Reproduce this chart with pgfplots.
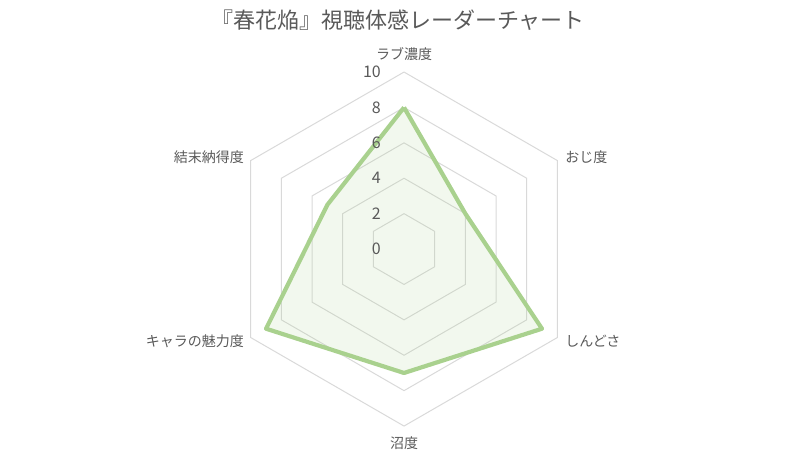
\documentclass[border=0pt]{standalone}
\usepackage{pgfplots}
\pgfplotsset{compat=1.18}
\usepackage{fontspec}
\setmainfont{Noto Sans CJK JP}
\definecolor{lineg}{HTML}{A9D18E}
\definecolor{gridg}{HTML}{D9D9D9}
\definecolor{txt}{HTML}{595959}
\begin{document}
\begin{tikzpicture}
\begin{axis}[
  x=17.7pt, y=17.7pt,
  xmin=-22.825, xmax=22.54, ymin=-11.47, ymax=14.07,
  hide axis, clip=false,
]
% bounding box
\path (axis cs:-22.825,-11.47) rectangle (axis cs:22.54,14.07);
% grid hexagons
\addplot[gridg, line width=1pt, data cs=polar, mark=none] coordinates {(90,2)(30,2)(-30,2)(-90,2)(-150,2)(150,2)(90,2)};
\addplot[gridg, line width=1pt, data cs=polar, mark=none] coordinates {(90,4)(30,4)(-30,4)(-90,4)(-150,4)(150,4)(90,4)};
\addplot[gridg, line width=1pt, data cs=polar, mark=none] coordinates {(90,6)(30,6)(-30,6)(-90,6)(-150,6)(150,6)(90,6)};
\addplot[gridg, line width=1pt, data cs=polar, mark=none] coordinates {(90,8)(30,8)(-30,8)(-90,8)(-150,8)(150,8)(90,8)};
\addplot[gridg, line width=1pt, data cs=polar, mark=none] coordinates {(90,10)(30,10)(-30,10)(-90,10)(-150,10)(150,10)(90,10)};
% data
\addplot[draw=lineg, line width=4.2pt, line join=round, fill=lineg, fill opacity=0.15, draw opacity=1, data cs=polar, mark=none]
  coordinates {(90,8)(30,4)(-30,9)(-90,7)(-150,9)(150,5)(90,8)};
% tick labels
\foreach \v in {0,2,4,6,8,10}{
  \edef\temp{\noexpand\node[anchor=east, text=txt, font=\noexpand\fontsize{16pt}{16pt}\noexpand\selectfont, inner sep=0pt] at (axis cs:-1.3,\v) {\v};}
  \temp
}
% category labels
\node[text=txt, font=\fontsize{14pt}{14pt}\selectfont, inner sep=0pt] at (axis cs:0,11.02) {ラブ濃度};
\node[anchor=west, text=txt, font=\fontsize{14pt}{14pt}\selectfont, inner sep=0pt] at (axis cs:9.10,5.20) {おじ度};
\node[anchor=west, text=txt, font=\fontsize{14pt}{14pt}\selectfont, inner sep=0pt] at (axis cs:9.10,-5.20) {しんどさ};
\node[text=txt, font=\fontsize{14pt}{14pt}\selectfont, inner sep=0pt] at (axis cs:0,-10.96) {沼度};
\node[anchor=east, text=txt, font=\fontsize{14pt}{14pt}\selectfont, inner sep=0pt] at (axis cs:-9.04,5.20) {結末納得度};
\node[anchor=east, text=txt, font=\fontsize{14pt}{14pt}\selectfont, inner sep=0pt] at (axis cs:-9.04,-5.20) {キャラの魅力度};
% title
\node[text=txt, font=\fontsize{22pt}{22pt}\selectfont, inner sep=0pt] at (axis cs:-0.34,12.94) {『春花焔』視聴体感レーダーチャート};
\end{axis}
\end{tikzpicture}
\end{document}
